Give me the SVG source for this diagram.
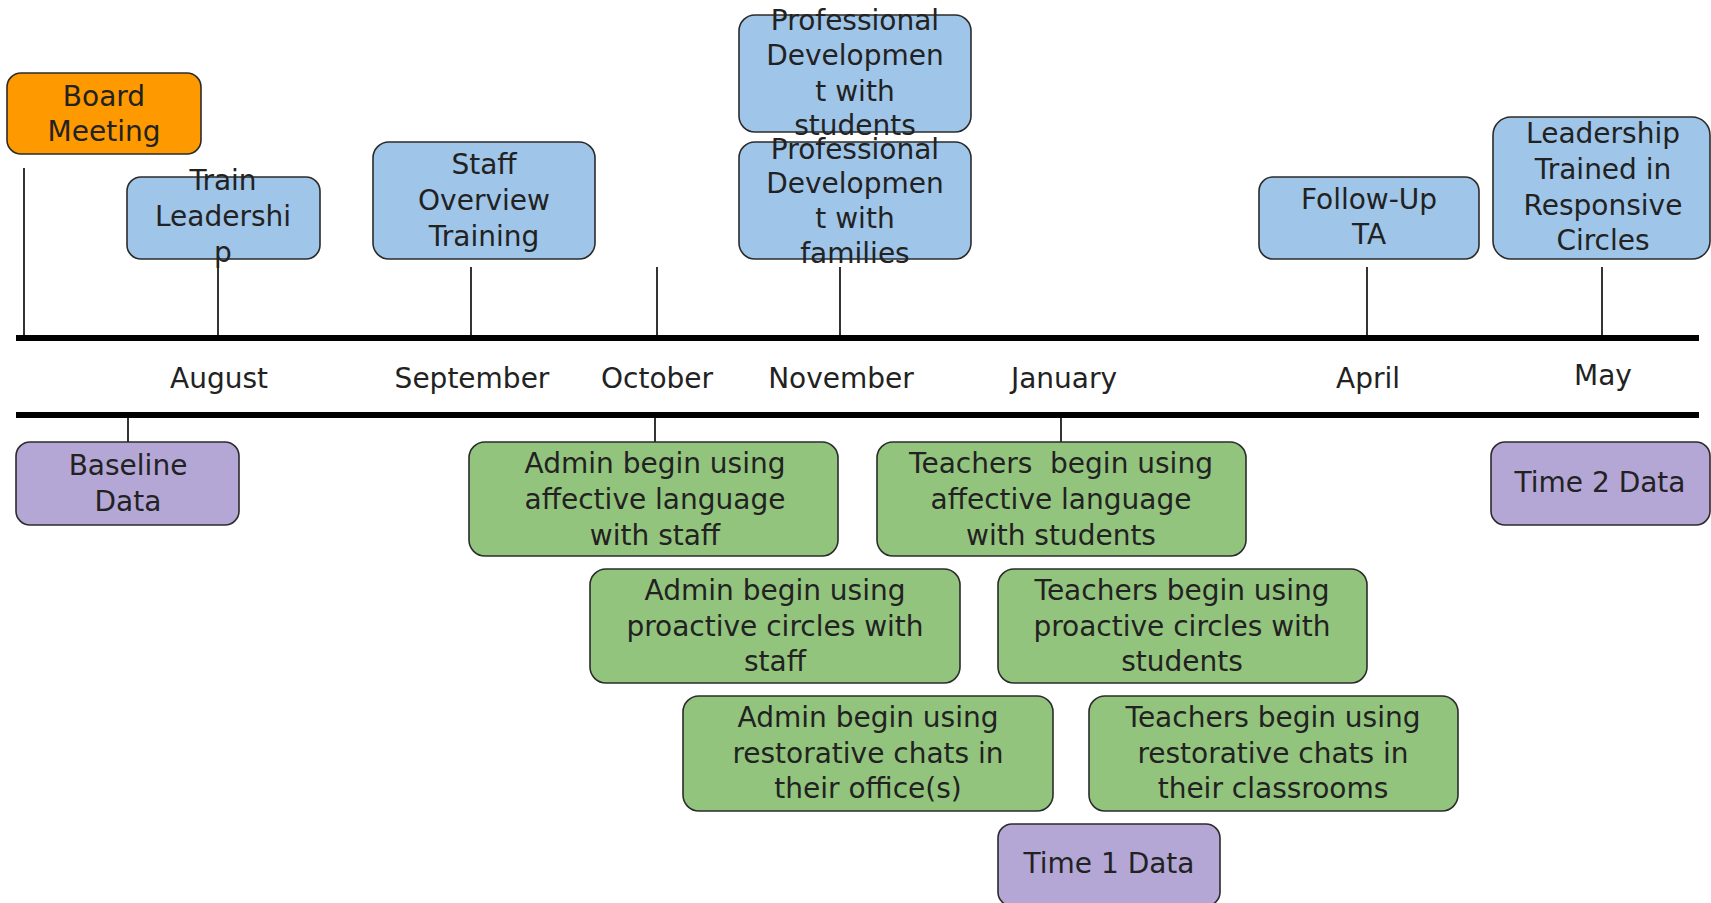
<svg xmlns="http://www.w3.org/2000/svg" width="1711" height="903" viewBox="0 0 1711 903">
<style>
text{font-family:"DejaVu Sans","Liberation Sans",sans-serif;font-size:28px;fill:#222;text-anchor:middle;white-space:pre}
.n{stroke:#2b2b2b;stroke-width:1.6}
.o{fill:#FF9900}.b{fill:#9FC5E8}.g{fill:#93C47D}.p{fill:#B4A7D6}
.t{stroke:#000;stroke-width:1.6;fill:none}
.m{stroke:#000;stroke-width:6;fill:none}
</style>
<rect width="1711" height="903" fill="#fff"/>
<g id="connectors">
<line class="m" x1="16" y1="338" x2="1699" y2="338"/>
<line class="m" x1="16" y1="415" x2="1699" y2="415"/>
<line class="t" x1="24" y1="168" x2="24" y2="336"/>
<line class="t" x1="218" y1="262" x2="218" y2="336"/>
<line class="t" x1="471" y1="267" x2="471" y2="336"/>
<line class="t" x1="657" y1="267" x2="657" y2="336"/>
<line class="t" x1="840" y1="267" x2="840" y2="336"/>
<line class="t" x1="1367" y1="267" x2="1367" y2="336"/>
<line class="t" x1="1602" y1="267" x2="1602" y2="336"/>
<line class="t" x1="128" y1="417" x2="128" y2="442"/>
<line class="t" x1="655" y1="417" x2="655" y2="442"/>
<line class="t" x1="1061" y1="417" x2="1061" y2="442"/>
</g>
<g id="months">
<text x="219" y="388">August</text>
<text x="472" y="388">September</text>
<text x="657" y="388">October</text>
<text x="841" y="388">November</text>
<text x="1064" y="388">January</text>
<text x="1368" y="388">April</text>
<text x="1603" y="385">May</text>
</g>
<g id="board-meeting">
<rect class="n o" x="7" y="73" width="194" height="81" rx="14"/>
<text x="104" y="106">Board</text><text x="104" y="141">Meeting</text>
</g>
<g id="train-leadership">
<rect class="n b" x="127" y="177" width="193" height="82" rx="14"/>
<text x="223" y="190">Train</text><text x="223" y="226">Leadershi</text><text x="223" y="262">p</text>
</g>
<g id="staff-overview">
<rect class="n b" x="373" y="142" width="222" height="117" rx="16"/>
<text x="484" y="174">Staff</text><text x="484" y="210">Overview</text><text x="484" y="246">Training</text>
</g>
<g id="pd-students">
<rect class="n b" x="739" y="15" width="232" height="117" rx="16"/>
<text x="855" y="30">Professional</text><text x="855" y="65">Developmen</text><text x="855" y="101">t with</text><text x="855" y="135">students</text>
</g>
<g id="pd-families">
<rect class="n b" x="739" y="142" width="232" height="117" rx="16"/>
<text x="855" y="159">Professional</text><text x="855" y="193">Developmen</text><text x="855" y="228">t with</text><text x="855" y="263">families</text>
</g>
<g id="follow-up-ta">
<rect class="n b" x="1259" y="177" width="220" height="82" rx="14"/>
<text x="1369" y="209">Follow-Up</text><text x="1369" y="244">TA</text>
</g>
<g id="leadership-trained">
<rect class="n b" x="1493" y="117" width="217" height="142" rx="18"/>
<text x="1603" y="143">Leadership</text><text x="1603" y="179">Trained in</text><text x="1603" y="215">Responsive</text><text x="1603" y="250">Circles</text>
</g>
<g id="baseline-data">
<rect class="n p" x="16" y="442" width="223" height="83" rx="14"/>
<text x="128" y="475">Baseline</text><text x="128" y="511">Data</text>
</g>
<g id="admin-affective">
<rect class="n g" x="469" y="442" width="369" height="114" rx="16"/>
<text x="655" y="473">Admin begin using</text><text x="655" y="509">affective language</text><text x="655" y="545">with staff</text>
</g>
<g id="teachers-affective">
<rect class="n g" x="877" y="442" width="369" height="114" rx="16"/>
<text x="1061" y="473">Teachers  begin using</text><text x="1061" y="509">affective language</text><text x="1061" y="545">with students</text>
</g>
<g id="time2-data">
<rect class="n p" x="1491" y="442" width="219" height="83" rx="14"/>
<text x="1600" y="492">Time 2 Data</text>
</g>
<g id="admin-proactive">
<rect class="n g" x="590" y="569" width="370" height="114" rx="16"/>
<text x="775" y="600">Admin begin using</text><text x="775" y="636">proactive circles with</text><text x="775" y="671">staff</text>
</g>
<g id="teachers-proactive">
<rect class="n g" x="998" y="569" width="369" height="114" rx="16"/>
<text x="1182" y="600">Teachers begin using</text><text x="1182" y="636">proactive circles with</text><text x="1182" y="671">students</text>
</g>
<g id="admin-restorative">
<rect class="n g" x="683" y="696" width="370" height="115" rx="16"/>
<text x="868" y="727">Admin begin using</text><text x="868" y="763">restorative chats in</text><text x="868" y="798">their office(s)</text>
</g>
<g id="teachers-restorative">
<rect class="n g" x="1089" y="696" width="369" height="115" rx="16"/>
<text x="1273" y="727">Teachers begin using</text><text x="1273" y="763">restorative chats in</text><text x="1273" y="798">their classrooms</text>
</g>
<g id="time1-data">
<rect class="n p" x="998" y="824" width="222" height="82" rx="14"/>
<text x="1109" y="873">Time 1 Data</text>
</g>
</svg>
